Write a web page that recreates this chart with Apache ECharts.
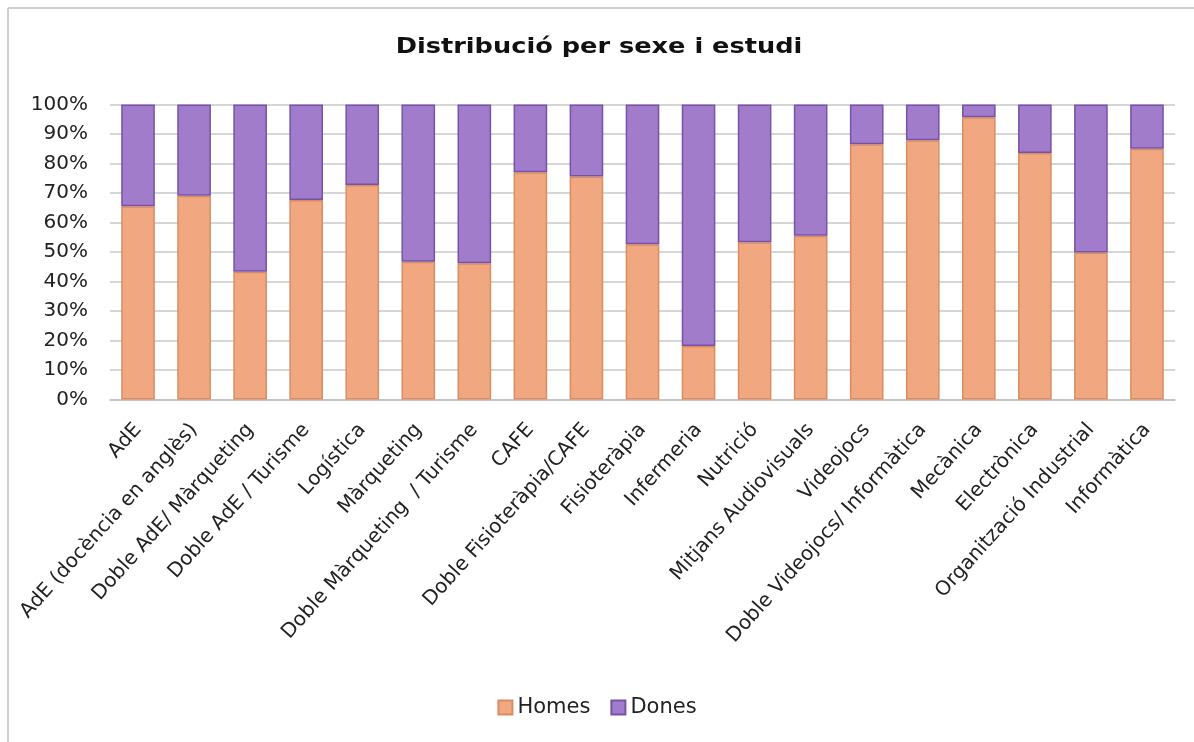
<!DOCTYPE html>
<html>
<head>
<meta charset="utf-8">
<script src="https://cdn.jsdelivr.net/npm/echarts@6/dist/echarts.min.js"></script>
<style>
html,body{margin:0;padding:0;background:#fff;}
#chart{width:1194px;height:742px;}
</style>
</head>
<body>
<div id="chart"></div>
<script>
const categories = ['AdE','AdE (docència en anglès)','Doble AdE/ Màrqueting','Doble AdE / Turisme','Logística','Màrqueting','Doble Màrqueting  / Turisme','CAFE','Doble Fisioteràpia/CAFE','Fisioteràpia','Infermeria','Nutrició','Mitjans Audiovisuals','Videojocs','Doble Videojocs/ Informàtica','Mecànica','Electrònica','Organització Industrial','Informàtica'];
const homes = [65.5, 69.1, 43.3, 67.6, 72.7, 46.7, 46.2, 77.0, 75.6, 52.6, 18.1, 53.3, 55.5, 86.5, 87.9, 95.7, 83.6, 49.8, 85.0];
const dones = [34.5, 30.9, 56.7, 32.4, 27.3, 53.3, 53.8, 23.0, 24.4, 47.4, 81.9, 46.7, 44.5, 13.5, 12.1, 4.3, 16.4, 50.2, 15.0];
const seriesNames = ['Homes','Dones'];
const titleText = 'Distribució per sexe i estudi';

const FONT = 'DejaVu Sans';
const chart = echarts.init(document.getElementById('chart'), null, {renderer:'canvas'});
chart.setOption({
  animation:false,
  backgroundColor:'#fff',
  graphic:[
    {type:'line', shape:{x1:8,y1:8,x2:1194,y2:8}, style:{stroke:'#cfcfcf', lineWidth:2}},
    {type:'line', shape:{x1:8,y1:8,x2:8,y2:742}, style:{stroke:'#cfcfcf', lineWidth:2}},
    {type:'text', x:599, y:48, scaleX:1.22,
     style:{text:titleText, fontFamily:FONT, fontWeight:'bold', fontSize:21, fill:'#111', align:'center', verticalAlign:'middle'}}
  ],
  legend:{
    data:seriesNames, top:692, left:'center', itemWidth:14, itemHeight:14, itemGap:20,
    icon:'rect',
    textStyle:{fontFamily:FONT, fontSize:21, color:'#222'}
  },
  grid:{left:110, right:19, top:104.5, bottom:342.5, containLabel:false},
  xAxis:{
    type:'category', data:categories,
    axisTick:{show:false},
    axisLine:{lineStyle:{color:'#bfbfbf', width:1.5}},
    axisLabel:{rotate:48, interval:0, margin:27, fontFamily:FONT, fontSize:20, color:'#222'}
  },
  yAxis:{
    type:'value', min:0, max:100, interval:10,
    axisLine:{show:false}, axisTick:{show:false},
    axisLabel:{formatter:'{value}%', fontFamily:FONT, fontSize:20, color:'#222', margin:22},
    splitLine:{lineStyle:{color:'#c8c8c8', width:1.5}}
  },
  series:[
    {name:seriesNames[0], type:'bar', stack:'total', data:homes, barWidth:'60%',
     itemStyle:{color:'#F1A880', borderColor:'#D98C62', borderWidth:1.5}},
    {name:seriesNames[1], type:'bar', stack:'total', data:dones, barWidth:'60%',
     itemStyle:{color:'#A07CCB', borderColor:'#7652A8', borderWidth:1.5}}
  ]
});
</script>
</body>
</html>
